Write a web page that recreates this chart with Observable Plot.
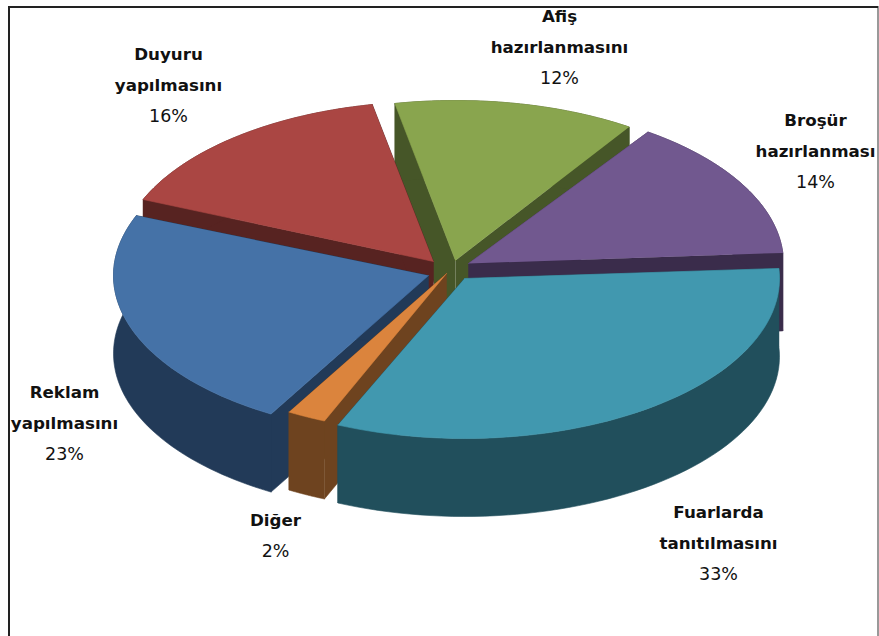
<!DOCTYPE html>
<html><head><meta charset="utf-8">
<script src="https://cdn.jsdelivr.net/npm/d3@7"></script>
<script src="https://cdn.jsdelivr.net/npm/@observablehq/plot@0.6"></script>
<style>html,body{margin:0;padding:0;background:#fff}svg{display:block}</style>
</head><body><div id="chart"></div>
<script>
// Data, clockwise from the right edge of the pie
const categories = ["Fuarlarda tanıtılmasını", "Diğer", "Reklam yapılmasını", "Duyuru yapılmasını", "Afiş hazırlanmasını", "Broşür hazırlanması"];
const shares = [33, 2, 23, 16, 12, 14];
const topColors = ["#4198AF", "#DB843D", "#4572A7", "#AA4643", "#89A54E", "#71588F"];
const wallColors = ["#214F5C", "#6E431F", "#223A58", "#572321", "#465628", "#3A2C4B"];

// Labels
const labelLines = [["Fuarlarda", "tanıtılmasını"], ["Diğer"], ["Reklam", "yapılmasını"], ["Duyuru", "yapılmasını"], ["Afiş", "hazırlanmasını"], ["Broşür", "hazırlanması"]];
const labelX = [718, 275, 64, 168, 559, 815];
const labelY = [512, 520, 392, 54, 16, 120];
const lineGap = 31;

// 3D view of the pie: explosion offset of each slice from the pie centre,
// and the apparent angle shift that the perspective gives each slice's two edges
const W = 879, H = 636;
const cx = 450, cy = 268, rx = 315, ry = 160, depth = 78, startDeg = -3.6;
const explodeDx = [14, -4, -22, -17, 5, 18];
const explodeDy = [10, 5, 7, -7, -8, -5];
const startShift = [0, -2.4, -2.4, -2.4, -3.9, -1.25];
const endShift = [-1.5, -2.4, -3.2, -4.0, -2.55, -0.2];
const paintOrder = [4, 5, 3, 2, 1, 0];

const total = d3.sum(shares);
const rad = d => d * Math.PI / 180;
let acc = startDeg;
const slices = shares.map((v, i) => {
  const a0 = acc + startShift[i], a1 = acc + v / total * 360 + endShift[i];
  acc += v / total * 360;
  const ax = cx + explodeDx[i], ay = cy + explodeDy[i];
  const rim = d3.range(0, 61).map(k => {
    const t = rad(a0 + (a1 - a0) * k / 60);
    return [ax + rx * Math.cos(t), ay + ry * Math.sin(t)];
  });
  return {i, ax, ay, rim};
});

const pieces = [];
const addPoly = (key, color, pts) => pts.forEach(p => pieces.push({key, color, x: p[0], y: p[1]}));
for (const i of paintOrder) {
  const s = slices[i], apex = [s.ax, s.ay];
  const down = p => [p[0], p[1] + depth];
  const first = s.rim[0], last = s.rim[s.rim.length - 1];
  addPoly(`w${i}a`, wallColors[i], [apex, first, down(first), down(apex)]);
  addPoly(`w${i}b`, wallColors[i], [apex, last, down(last), down(apex)]);
  addPoly(`w${i}c`, wallColors[i], [...s.rim, ...s.rim.slice().reverse().map(down)]);
  addPoly(`t${i}`, topColors[i], [apex, ...s.rim]);
}

const nameRows = [], pctRows = [];
categories.forEach((c, i) => {
  labelLines[i].forEach((t, k) => nameRows.push({t, x: labelX[i], y: labelY[i] + k * lineGap}));
  pctRows.push({t: shares[i] + "%", x: labelX[i], y: labelY[i] + labelLines[i].length * lineGap});
});

const chart = Plot.plot({
  width: W, height: H, margin: 0,
  x: {domain: [0, W], range: [0, W], axis: null},
  y: {domain: [0, H], range: [0, H], axis: null},
  style: {background: "#fff"},
  marks: [
    Plot.line(pieces, {x: "x", y: "y", z: "key", fill: {value: "color", scale: null}, stroke: {value: "color", scale: null}, strokeWidth: 0.6, curve: "linear"}),
    Plot.text(nameRows, {x: "x", y: "y", text: "t", fontFamily: "DejaVu Sans", fontWeight: "bold", fontSize: 16.7, fill: "#111"}),
    Plot.text(pctRows, {x: "x", y: "y", text: "t", fontFamily: "DejaVu Sans", fontSize: 17.5, fill: "#111"}),
    Plot.rect([{}], {x1: 0, x2: W, y1: 0, y2: 7.5, fill: "#fff"}),
    Plot.ruleX([8.5], {stroke: "#222", strokeWidth: 2, y1: 6, y2: H}),
    Plot.ruleX([877.5], {stroke: "#777", strokeWidth: 1.5, y1: 6, y2: H}),
    Plot.ruleY([6.5], {stroke: "#222", strokeWidth: 2, x1: 8, x2: 878})
  ]
});
document.getElementById("chart").append(chart);
</script></body></html>
